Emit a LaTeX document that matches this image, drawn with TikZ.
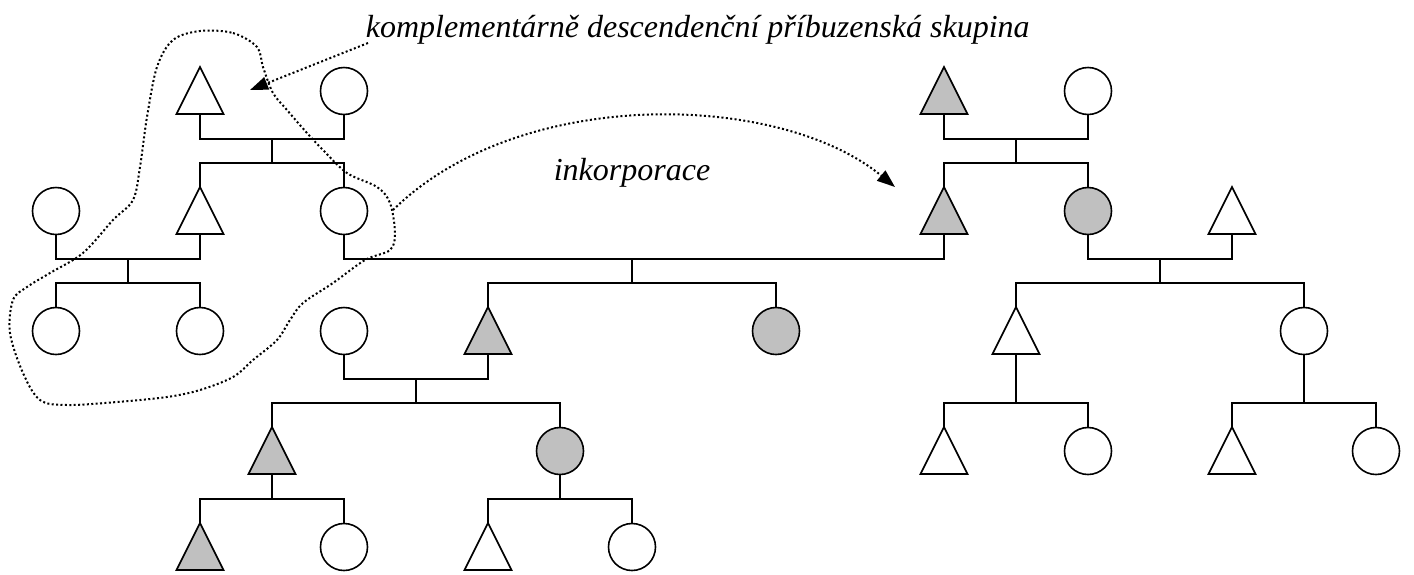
\documentclass[tikz,border=0pt]{standalone}
\usepackage{fontspec}
\setmainfont{Liberation Serif}
\usetikzlibrary{shapes.geometric,arrows.meta}
\definecolor{kgrey}{HTML}{C0C0C0}
\begin{document}
\begin{tikzpicture}[x=1pt,y=-1pt,
  line width=1.6pt,
  fem/.style={circle,draw,minimum size=47pt,inner sep=0pt,outer sep=0pt,fill=white},
  mal/.style={isosceles triangle,isosceles triangle stretches,shape border rotate=90,draw,minimum width=47pt,minimum height=47pt,inner sep=0pt,outer sep=0pt,anchor=apex,fill=white},
  shaded/.style={fill=kgrey},
  dots/.style={line width=2pt,dash pattern=on 2pt off 2.4pt},
  tip/.style={-{Triangle[length=18pt,width=13pt]}},
  lab/.style={font=\fontsize{32}{38}\selectfont\itshape,inner sep=0pt}
]
\useasboundingbox (0,0) rectangle (1414,574);
% row 1
\node[mal] (A1) at (200,67) {};
\node[fem] (A2) at (344,91) {};
\node[mal,shaded] (R1) at (944,67) {};
\node[fem] (R2) at (1088,91) {};
% row 2
\node[fem] (B0) at (56,211) {};
\node[mal] (B1) at (200,187) {};
\node[fem] (B2) at (344,211) {};
\node[mal,shaded] (R3) at (944,187) {};
\node[fem,shaded] (R4) at (1088,211) {};
\node[mal] (R5) at (1232,187) {};
% row 3
\node[fem] (C1) at (56,331) {};
\node[fem] (C2) at (200,331) {};
\node[fem] (C3) at (344,331) {};
\node[mal,shaded] (C4) at (488,307) {};
\node[fem,shaded] (C5) at (776,331) {};
\node[mal] (R6) at (1016,307) {};
\node[fem] (R7) at (1304,331) {};
% row 4
\node[mal,shaded] (D1) at (272,427) {};
\node[fem,shaded] (D2) at (560,451) {};
\node[mal] (R8) at (944,427) {};
\node[fem] (R9) at (1088,451) {};
\node[mal] (R10) at (1232,427) {};
\node[fem] (R11) at (1376,451) {};
% row 5
\node[mal,shaded] (E1) at (200,523) {};
\node[fem] (E2) at (344,547) {};
\node[mal] (E3) at (488,523) {};
\node[fem] (E4) at (632,547) {};
% junctions
\coordinate (mA) at (272,139); \coordinate (dA) at (272,163);
\coordinate (mB) at (128,259); \coordinate (dB) at (128,283);
\coordinate (mM) at (632,259); \coordinate (dM) at (632,283);
\coordinate (mC) at (416,379); \coordinate (dC) at (416,403);
\coordinate (dD1) at (272,499); \coordinate (dD2) at (560,499);
\coordinate (mR) at (1016,139); \coordinate (dR) at (1016,163);
\coordinate (mS) at (1160,259); \coordinate (dS) at (1160,283);
\coordinate (dT) at (1016,403); \coordinate (dU) at (1304,403);
% kinship lines
\draw (A1.lower side) |- (mA) -| (A2.south); \draw (mA) -- (dA);
\draw (B1.apex) |- (dA) -| (B2.north);
\draw (B0.south) |- (mB) -| (B1.lower side); \draw (mB) -- (dB);
\draw (C1.north) |- (dB) -| (C2.north);
\draw (B2.south) |- (mM) -| (R3.lower side); \draw (mM) -- (dM);
\draw (C4.apex) |- (dM) -| (C5.north);
\draw (C3.south) |- (mC) -| (C4.lower side); \draw (mC) -- (dC);
\draw (D1.apex) |- (dC) -| (D2.north);
\draw (D1.lower side) -- (dD1); \draw (E1.apex) |- (dD1) -| (E2.north);
\draw (D2.south) -- (dD2); \draw (E3.apex) |- (dD2) -| (E4.north);
\draw (R1.lower side) |- (mR) -| (R2.south); \draw (mR) -- (dR);
\draw (R3.apex) |- (dR) -| (R4.north);
\draw (R4.south) |- (mS) -| (R5.lower side); \draw (mS) -- (dS);
\draw (R6.apex) |- (dS) -| (R7.north);
\draw (R6.lower side) -- (dT); \draw (R8.apex) |- (dT) -| (R9.north);
\draw (R7.south) -- (dU); \draw (R10.apex) |- (dU) -| (R11.north);
% labels
\node[lab,anchor=base west] (t1) at (365,37) {komplementárně descendenční příbuzenská skupina};
\node[lab,anchor=base west] (t2) at (553,180) {inkorporace};
% dotted outline
\draw[dots] plot[smooth cycle, tension=0.55] coordinates {
 (200,31) (233,33) (257,47) (263,67) (273,93) (287,110) (307,133) (323,150)
 (347,173) (377,187) (390,203) (395,233) (390,250) (365,260) (333,283)
 (303,303) (290,320) (277,340) (253,360) (233,377) (200,390) (167,397)
 (117,402) (67,405) (40,400) (23,373) (10,333) (13,300) (27,287) (50,273)
 (83,253) (113,220) (133,200) (140,167) (147,117) (157,67) (173,40)};
% arrows
\coordinate (a1s) at (368,43); \coordinate (a1e) at (250,90);
\draw[dots,tip] (a1s) -- (a1e);
\coordinate (a2s) at (393,210); \coordinate (a2e) at (895,187);
\draw[dots,tip] (a2s) .. controls (520,85) and (780,92) .. (a2e);
\end{tikzpicture}
\end{document}
